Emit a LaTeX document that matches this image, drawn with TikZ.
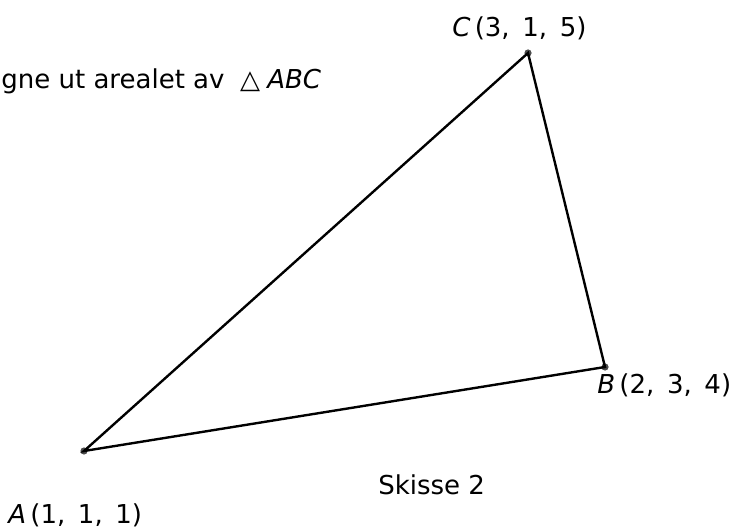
\documentclass[tikz,border=0pt]{standalone}
\usepackage{fontspec}
\setmainfont{DejaVu Sans}
\usetikzlibrary{positioning}

\begin{document}
\begin{tikzpicture}[x=0.025cm,y=-0.025cm,
  punkt/.style={circle,fill=black!70,inner sep=0pt,minimum size=0.18cm},
  etikett/.style={font=\fontsize{18.5}{22}\selectfont,inner sep=0pt}]
\useasboundingbox (0,0) rectangle (736,530);
% Hjørner
\node[punkt] (A) at (84,451) {};
\node[punkt] (B) at (605,367) {};
\node[punkt] (C) at (528,53) {};

% Sider
\draw[line width=1.7pt] (A.center) -- (B.center) -- (C.center) -- cycle;

% Tekst
\node[etikett,anchor=base west] (tA) at (8,523) {\textit{A}\,(1,\, 1,\, 1)};
\node[etikett,anchor=base west] (tB) at (597,393) {\textit{B}\,(2,\, 3,\, 4)};
\node[etikett,anchor=base west] (tC) at (452,37) {\textit{C}\,(3,\, 1,\, 5)};
\node[etikett,anchor=base west] (oppg) at (1,89) {gne ut arealet av \;△\;\textit{ABC}};
\node[etikett,anchor=base west] (skisse) at (378,494) {Skisse 2};
\end{tikzpicture}
\end{document}
